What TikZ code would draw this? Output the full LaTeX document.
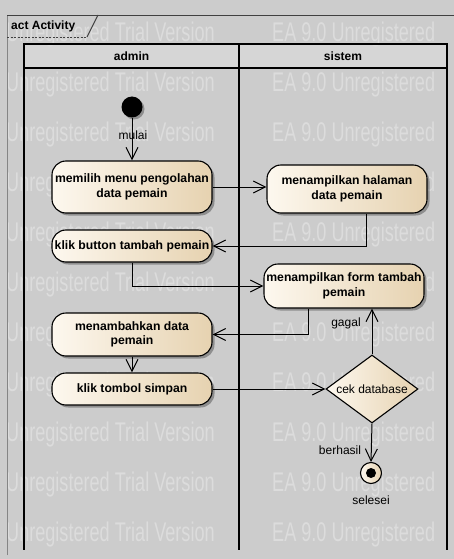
\documentclass[tikz,border=0pt]{standalone}
\usepackage{fontspec}
\setmainfont{Liberation Sans}
\usetikzlibrary{arrows.meta,shapes.geometric,shadows}

\definecolor{bg}{HTML}{CCCCCC}
\definecolor{wm}{HTML}{DCDCDC}
\definecolor{hdr}{HTML}{D6D6D6}
\definecolor{actL}{HTML}{FDF8EF}
\definecolor{actR}{HTML}{E6D2B0}
\definecolor{framegray}{HTML}{858585}

\begin{document}
\begin{tikzpicture}[x=1pt,y=-1pt,
  action/.style={draw=black, line width=1.1pt, rounded corners=14pt,
    left color=actL, right color=actR, minimum width=160pt,
    align=center, inner sep=2pt,
    font=\fontsize{12.2}{14.5}\selectfont\bfseries,
    drop shadow={shadow xshift=2.5pt, shadow yshift=-2.5pt, fill=black, opacity=0.3}},
  decision/.style={diamond, draw=black, line width=1.1pt,
    left color=actL, right color=actR, aspect=1.35, inner sep=0pt,
    minimum width=92pt, minimum height=68pt,
    font=\fontsize{12}{14}\selectfont},
  flow/.style={draw=black, line width=1pt, -{Straight Barb[length=12pt,width=12pt]}},
  lbl/.style={font=\fontsize{12}{14}\selectfont, inner sep=1pt},
  lanehead/.style={font=\fontsize{12}{14}\selectfont\bfseries},
  wmtext/.style={font=\fontsize{27}{30}\selectfont, text=wm, anchor=west, inner sep=0pt}]

  % canvas
  \useasboundingbox (0,0) rectangle (454,559);
  \clip (0,0) rectangle (454,559);
  \fill[bg] (0,0) rectangle (454,559);

  % swimlane header cells
  \fill[hdr] (24,44) rectangle (447,68);

  % evaluation watermark rows
  \foreach \k in {0,...,10} {
    \node[wmtext] (wma\k) at (6,{35+50*\k}) {\scalebox{0.67}[1]{Unregistered Trial Version}};
    \node[wmtext] (wmb\k) at (272,{35+50*\k}) {\scalebox{0.67}[1]{EA 9.0 Unregistered}};
  }

  % diagram frame and its name tab
  \draw[framegray, line width=0.9pt] (7,555) -- (7,15);
  \draw[black!75, line width=0.9pt] (7,15) -- (454,15);
  \draw[black!75, line width=0.9pt] (98,15) -- (87,37);
  \draw[black!75, line width=0.9pt, dash pattern=on 2pt off 1.5pt] (7,37) -- (87,37);
  \node[anchor=west, font=\fontsize{12}{14}\selectfont\bfseries, inner sep=0pt] (frametitle) at (11,26) {act Activity};

  % swimlanes
  \draw[black, line width=1.2pt] (24,44) rectangle (447,68);
  \draw[black, line width=1.2pt] (24,44) -- (24,550);
  \draw[black, line width=1.2pt] (239,44) -- (239,550);
  \draw[black, line width=1.2pt] (447,44) -- (447,550);
  \node[lanehead] (laneA) at (131.5,56) {admin};
  \node[lanehead] (laneB) at (343,56) {sistem};

  % activities
  \node[circle, fill=black, minimum size=21pt, inner sep=0pt,
        drop shadow={shadow xshift=2pt, shadow yshift=-2pt, fill=black, opacity=0.3}] (start) at (132,107) {};
  \node[action, minimum height=52pt] (n1) at (132,187) {memilih menu pengolahan\\data pemain};
  \node[action, minimum height=48pt] (n2) at (347,189) {menampilkan halaman\\data pemain};
  \node[action, minimum height=32pt] (n3) at (132,246) {klik button tambah pemain};
  \node[action, minimum height=44pt] (n4) at (344,286) {menampilkan form tambah\\pemain};
  \node[action, minimum height=43pt] (n5) at (132,334.5) {menambahkan data\\pemain};
  \node[action, minimum height=32pt] (n6) at (132,389) {klik tombol simpan};
  \node[decision] (dec) at (372,389) {cek database};
  \node[circle, draw=black, line width=1.1pt, left color=actL, right color=actR,
        minimum size=21pt, inner sep=0pt] (finish) at (371,473) {};
  \node[circle, fill=black, minimum size=10pt, inner sep=0pt] (finishdot) at (finish.center) {};

  % control flows
  \draw[flow] (start) -- (n1.north);
  \node[lbl] (mulai) at (133,135) {mulai};
  \draw[flow] (n1.east) -- (n1.east -| n2.west);
  \draw[flow] ([xshift=19pt]n2.south) |- (n3.east);
  \draw[flow] (n3.south) |- (n4.west);
  \draw[flow] ([xshift=-36pt]n4.south) |- (n5.east);
  \draw[flow] (n5.south) -- (n6.north);
  \draw[flow] (n6.east) -- (dec.west);
  \draw[flow] (dec.north) -- (dec.north |- n4.south);
  \node[lbl] (gagal) at (346,323) {gagal};
  \draw[flow] (dec.south) -- (finish.north);
  \node[lbl] (berhasil) at (340,450) {berhasil};
  \node[lbl] (selesei) at (371,500) {selesei};
\end{tikzpicture}
\end{document}
